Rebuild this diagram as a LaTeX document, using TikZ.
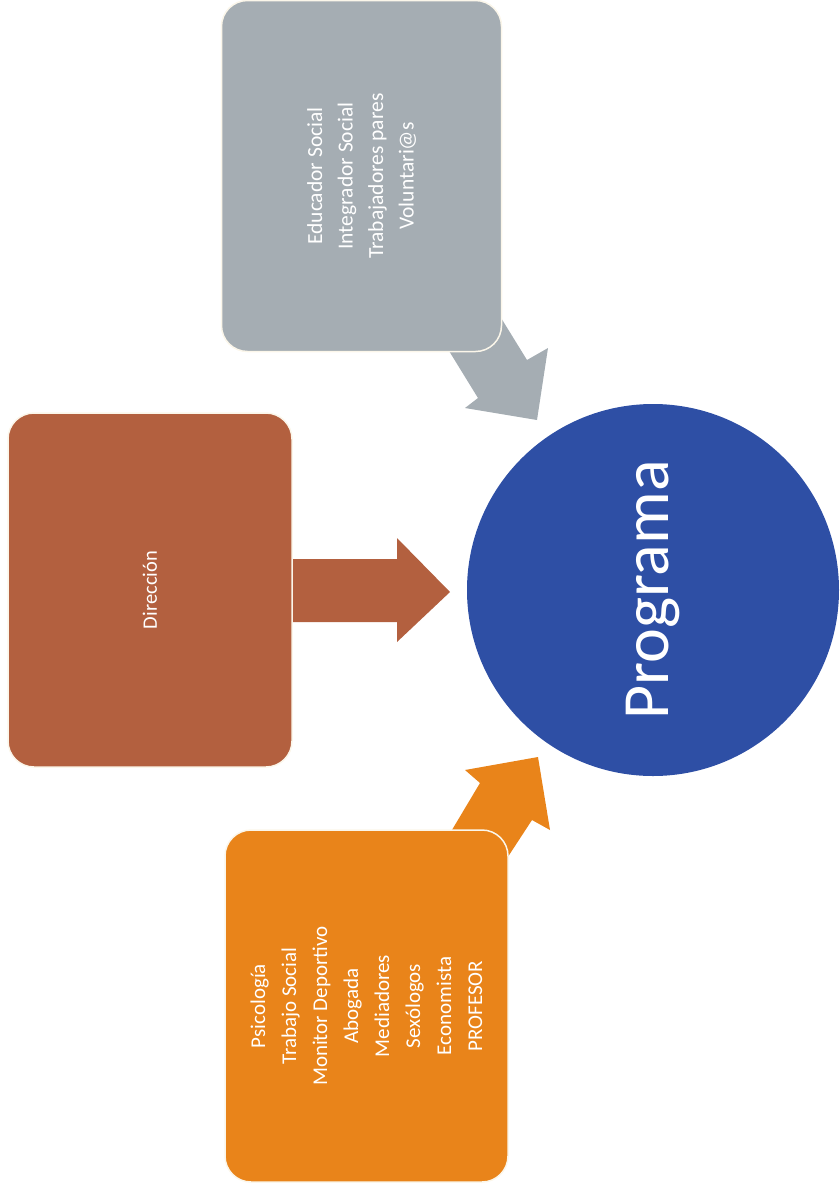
\documentclass[tikz,border=0pt]{standalone}
\usepackage{fontspec}
\setmainfont{Carlito}
\definecolor{greybox}{HTML}{A5ADB3}
\definecolor{brownbox}{HTML}{B3603F}
\definecolor{orangebox}{HTML}{E9841A}
\definecolor{bluecirc}{HTML}{2E4FA5}
\definecolor{rim}{HTML}{FBF6EA}
\begin{document}
\begin{tikzpicture}[x=1pt,y=-1pt,
  box/.style={rectangle, rounded corners=26pt, draw=rim, line width=1.5pt,
    rotate=90, text=white, align=center, inner sep=0pt}]
\useasboundingbox (0,0) rectangle (839,1195);
% block arrows (drawn first, boxes overlap their tails)
\fill[greybox] (430,320) -- (478,398) -- (465,408) -- (537,420) -- (548,348) -- (527,360) -- (490,300) -- cycle;
\fill[orangebox] (440,850) -- (480,783) -- (465,770) -- (538,757) -- (550,830) -- (532,820) -- (498,872) -- cycle;
\fill[brownbox] (288,559) -- (397,559) -- (397,538) -- (450,592) -- (397,642) -- (397,622) -- (288,622) -- cycle;
% boxes
\node[box, fill=greybox, minimum width=351pt, minimum height=280pt,
  font=\fontsize{21.5}{30.5}\selectfont] (grey) at (361.5,176)
  {Educador Social\\Integrador Social\\Trabajadores pares\\Voluntari@s};
\node[box, fill=brownbox, minimum width=354pt, minimum height=284pt,
  font=\fontsize{20.5}{30.5}\selectfont] (dir) at (150,590)
  {Dirección};
\node[box, fill=orangebox, minimum width=352pt, minimum height=283pt,
  font=\fontsize{21}{31}\selectfont] (orange) at (366.5,1006)
  {Psicología\\Trabajo Social\\Monitor Deportivo\\Abogada\\Mediadores\\Sexólogos\\Economista\\PROFESOR};
% circle
\node[circle, fill=bluecirc, minimum size=372pt, inner sep=0pt, rotate=90,
  text=white, font=\fontsize{66}{70}\selectfont] (prog) at (653,590) {Programa};
\end{tikzpicture}
\end{document}
